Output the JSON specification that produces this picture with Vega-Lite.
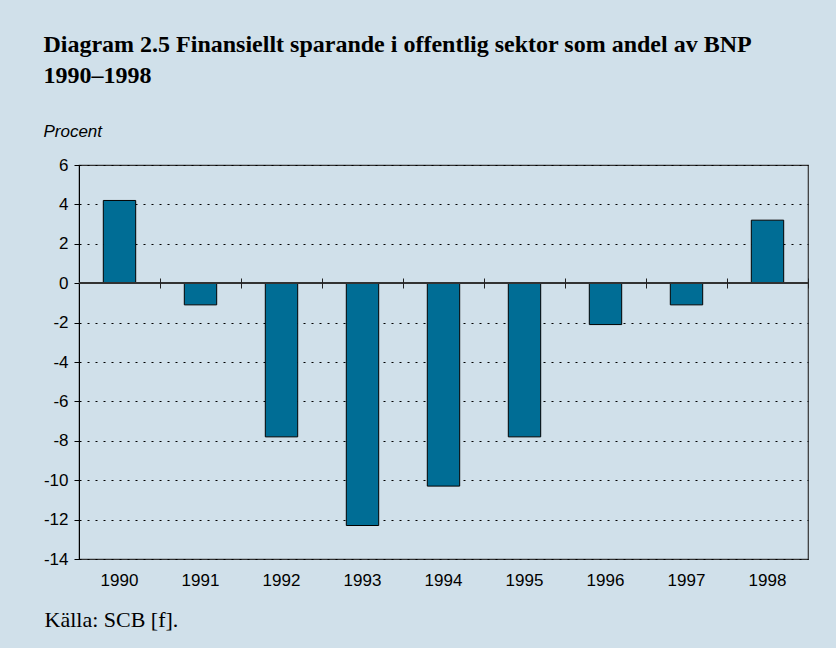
{
  "$schema": "https://vega.github.io/schema/vega-lite/v6.json",
  "width": 729,
  "height": 394,
  "autosize": {"type": "pad"},
  "padding": {"left": 43, "top": 33, "right": 28, "bottom": 19},
  "background": "#d0e0ea",
  "title": {
    "text": ["Diagram 2.5 Finansiellt sparande i offentlig sektor som andel av BNP", "1990–1998"],
    "subtitle": "Procent",
    "anchor": "start",
    "frame": "bounds",
    "font": "Liberation Serif",
    "fontSize": 24,
    "fontWeight": "bold",
    "color": "black",
    "lineHeight": 31,
    "subtitleFont": "Liberation Sans",
    "subtitleFontSize": 17,
    "subtitleFontStyle": "italic",
    "subtitleColor": "black",
    "subtitlePadding": 36,
    "offset": 16
  },
  "data": {
    "values": [
      {"year": "1990", "value": 4.2},
      {"year": "1991", "value": -1.1},
      {"year": "1992", "value": -7.8},
      {"year": "1993", "value": -12.3},
      {"year": "1994", "value": -10.3},
      {"year": "1995", "value": -7.8},
      {"year": "1996", "value": -2.1},
      {"year": "1997", "value": -1.1},
      {"year": "1998", "value": 3.2}
    ]
  },
  "layer": [
    {
      "mark": {"type": "bar", "fill": "#006d95", "stroke": "black", "strokeWidth": 1},
      "encoding": {
        "x": {
          "field": "year",
          "type": "nominal",
          "scale": {"paddingInner": 0.6, "paddingOuter": 0.3},
          "axis": {
            "orient": "bottom",
            "title": "Källa: SCB [f].",
            "domain": false,
            "ticks": false,
            "grid": false,
            "labelAngle": 0,
            "labelPadding": 13,
            "labelFont": "Liberation Sans",
            "labelFontSize": 17,
            "labelColor": "black",
            "titleFont": "Liberation Serif",
            "titleFontSize": 22,
            "titleFontWeight": "normal",
            "titleColor": "black",
            "titleAnchor": "start",
            "titleAlign": "left",
            "titleBaseline": "alphabetic",
            "titleX": -35,
            "titleY": 67
          }
        },
        "y": {
          "field": "value",
          "type": "quantitative",
          "scale": {"domain": [-14, 6], "nice": false, "zero": false},
          "axis": {
            "title": null,
            "values": [-14, -12, -10, -8, -6, -4, -2, 0, 2, 4, 6],
            "labelExpr": "'' + datum.value",
            "labelOverlap": false,
            "labelFlush": false,
            "domain": true,
            "domainColor": "black",
            "domainWidth": 1,
            "ticks": true,
            "tickSize": 5,
            "tickColor": "black",
            "labelPadding": 6,
            "labelFont": "Liberation Sans",
            "labelFontSize": 17,
            "labelColor": "black",
            "grid": true,
            "gridColor": "black",
            "gridDash": [2, 6],
            "gridWidth": 1,
            "gridOpacity": 1
          }
        }
      }
    },
    {
      "mark": {"type": "rule", "color": "#333333", "strokeWidth": 1.2},
      "encoding": {
        "y": {
          "datum": 0,
          "type": "quantitative",
          "axis": {
            "title": null,
            "values": [-14, -12, -10, -8, -6, -4, -2, 0, 2, 4, 6],
            "labelExpr": "'' + datum.value",
            "labelOverlap": false,
            "labelFlush": false,
            "domain": true,
            "domainColor": "black",
            "domainWidth": 1,
            "ticks": true,
            "tickSize": 5,
            "tickColor": "black",
            "labelPadding": 6,
            "labelFont": "Liberation Sans",
            "labelFontSize": 17,
            "labelColor": "black",
            "grid": true,
            "gridColor": "black",
            "gridDash": [2, 6],
            "gridWidth": 1,
            "gridOpacity": 1
          }
        }
      }
    },
    {
      "mark": {"type": "point", "opacity": 0},
      "encoding": {
        "x": {
          "field": "year",
          "type": "nominal",
          "axis": {
            "orient": "top",
            "offset": -123,
            "tickOffset": 40.5,
            "tickSize": 10,
            "tickColor": "#222222",
            "tickWidth": 1,
            "labels": false,
            "domain": false,
            "grid": false,
            "title": null,
            "zindex": 1
          }
        }
      }
    }
  ],
  "resolve": {"axis": {"x": "independent"}},
  "config": {
    "view": {"stroke": "#333333", "strokeWidth": 1.2},
    "axisY": {"labelOverlap": false, "labelFlush": false}
  }
}
